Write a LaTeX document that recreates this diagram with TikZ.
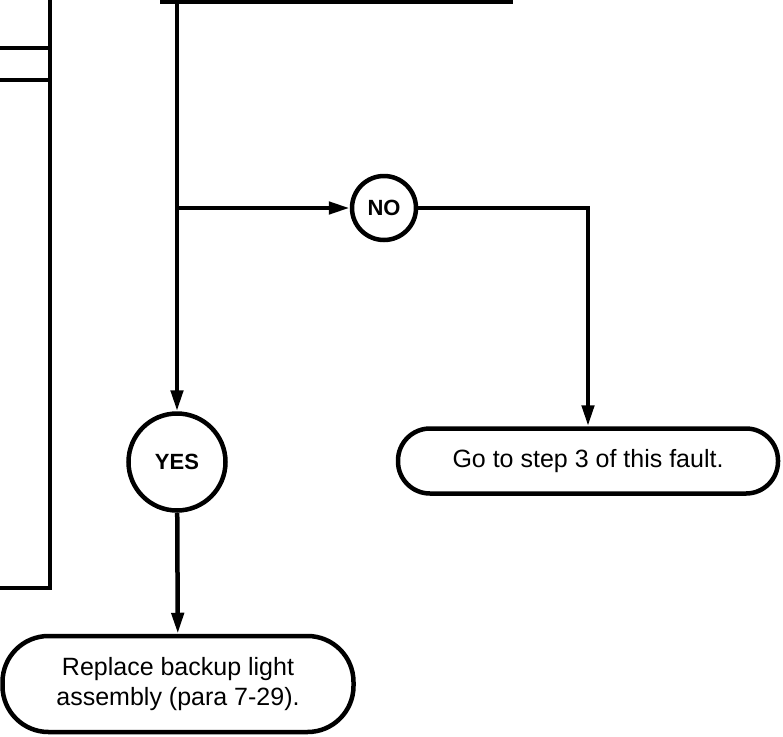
\documentclass[tikz,border=0pt]{standalone}
\usepackage{fontspec}
\setmainfont{Liberation Sans}
\usetikzlibrary{arrows.meta, positioning}

\begin{document}
\begin{tikzpicture}[x=1pt,y=-1pt,line width=4.5pt,
  decision/.style={circle,draw,inner sep=0pt,minimum size=64pt,font=\bfseries\fontsize{22}{26}\selectfont},
  endbox/.style={draw,rounded corners=32pt,align=center,font=\fontsize{25}{30}\selectfont},
  flow/.style={-{Triangle[length=21pt,width=12pt]}}]
\useasboundingbox (0,0) rectangle (783,736);
% cut-off boxes of the step above
\draw (0,48) -- (50,48) (0,80) -- (50,80) (50,-2) -- (50,588) -- (0,588);
\draw (160,1.5) -- (513,1.5);
\coordinate (topout) at (177,1.5);
\coordinate (split) at (177,208);
\node[decision] (no) at (384,208) {NO};
\node[decision,minimum size=97pt] (yes) at (177,462) {YES};
\node[endbox,minimum width=380pt,minimum height=65pt] (gostep) at (588,461) {Go to step 3 of this fault.};
\node[endbox,minimum width=351pt,minimum height=96pt,rounded corners=46pt] (replace) at (178,684) {Replace backup light\\assembly (para 7-29).};
\draw[flow] (topout) -- (yes);
\draw[flow] (split) -- (no);
\draw[flow] (no) -| (gostep);
\draw[flow] (yes) -- (replace);
\end{tikzpicture}
\end{document}
